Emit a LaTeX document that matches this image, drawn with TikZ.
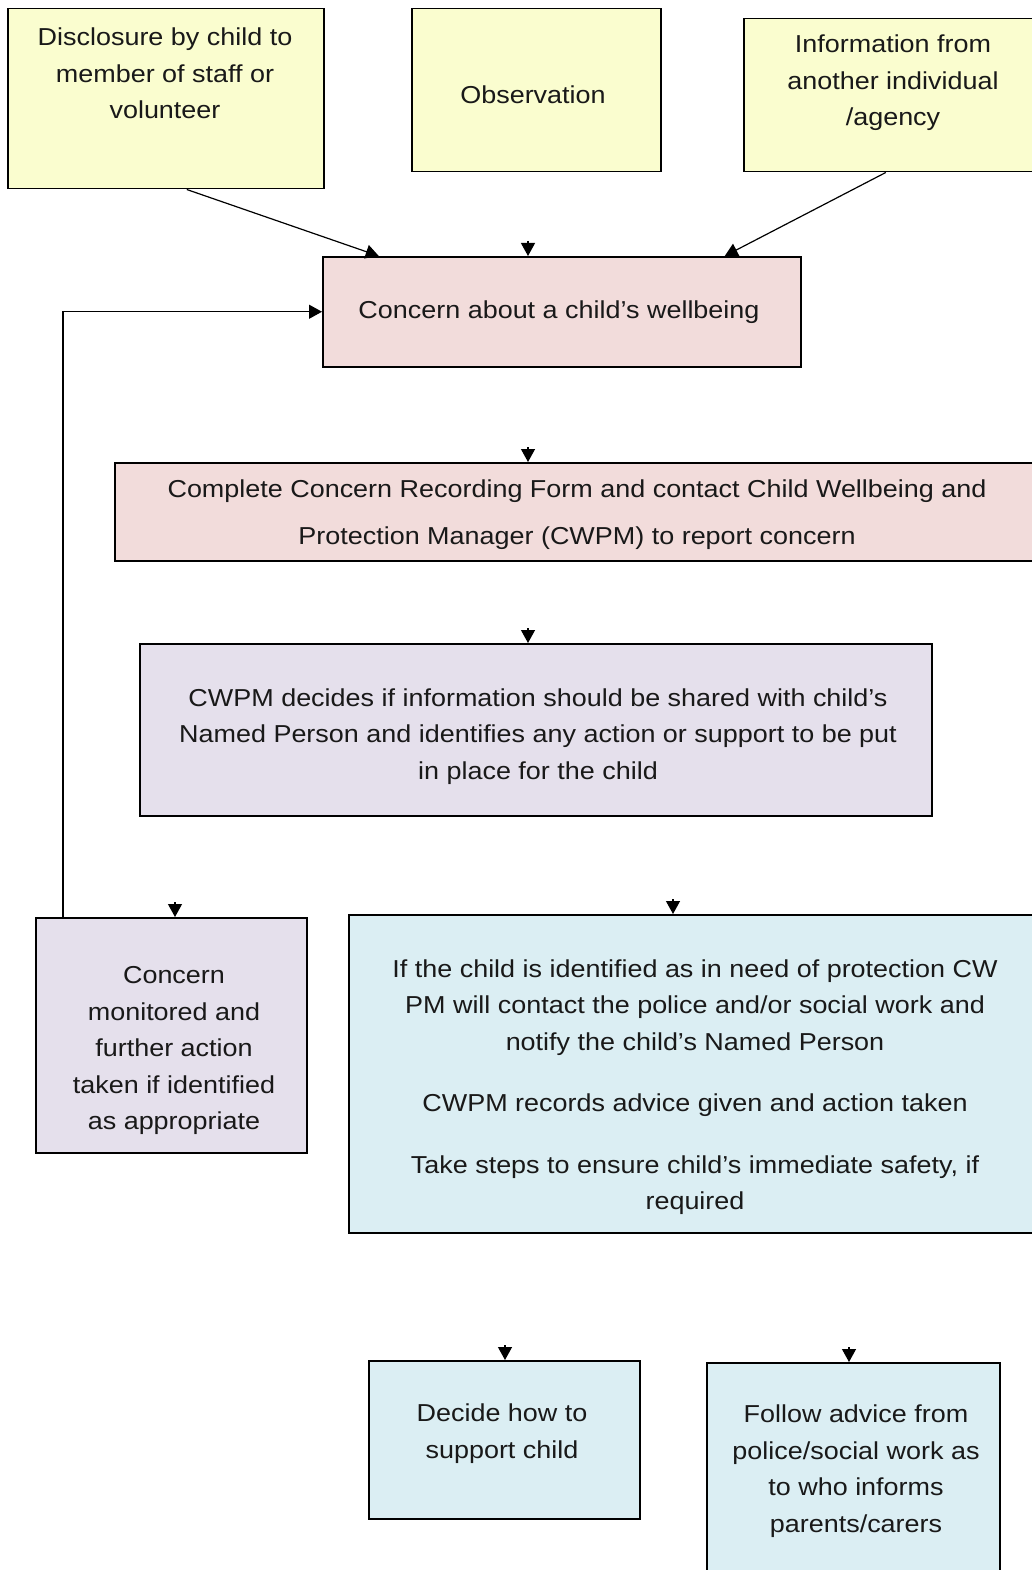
\documentclass[tikz,border=0pt]{standalone}
\usepackage{fontspec}
\setmainfont{Liberation Sans}[FakeStretch=1.1]
\usetikzlibrary{arrows.meta}
\definecolor{boxyellow}{HTML}{FAFDCF}
\definecolor{boxpink}{HTML}{F2DCDB}
\definecolor{boxlilac}{HTML}{E5E0EC}
\definecolor{boxblue}{HTML}{DBEEF3}
\tikzset{
  box/.style={draw, line width=1.5pt, rectangle, anchor=north west, inner sep=0pt},
  txt/.style={align=center, text=black!90, inner sep=0pt, yshift=-3.5pt,
    font=\fontsize{24.5}{36.5}\selectfont},
  tip/.style={line width=1.2pt, -{Triangle[width=14pt,length=13pt]}},
}
\begin{document}
\begin{tikzpicture}[x=1pt, y=-1pt]
    \useasboundingbox (0,0) rectangle (1032,1570);
    % sources
    \node (disc) [box, fill=boxyellow, minimum width=316pt, minimum height=180pt] at (7,8) {};
    \node (discT) [txt] at (165,70) {Disclosure by child to\\ member of staff or\\ volunteer};
    \node (obs) [box, fill=boxyellow, minimum width=249pt, minimum height=163pt] at (411,8) {};
    \node (obsT) [txt] at (533,91) {Observation};
    \node (info) [box, fill=boxyellow, minimum width=300pt, minimum height=153pt] at (743,18) {};
    \node (infoT) [txt] at (893,79.5) {Information from\\ another individual\\ /agency};
    % main line
    \node (concern) [box, fill=boxpink, minimum width=478pt, minimum height=110pt] at (322,256) {};
    \node (concernT) [txt] at (559,309) {Concern about a child’s wellbeing};
    \node (complete) [box, fill=boxpink, minimum width=930pt, minimum height=98pt] at (114,462) {};
    \node (completeT) [txt] at (577,511.5) {Complete Concern Recording Form and contact Child Wellbeing and\\[10.5pt] Protection Manager (CWPM) to report concern};
    \node (cwpm) [box, fill=boxlilac, minimum width=792pt, minimum height=172pt] at (139,643) {};
    \node (cwpmT) [txt] at (538,733) {CWPM decides if information should be shared with child’s\\ Named Person and identifies any action or support to be put\\ in place for the child};
    \node (monitor) [box, fill=boxlilac, minimum width=271pt, minimum height=235pt] at (35,917) {};
    \node (monitorT) [txt] at (174,1047) {Concern\\ monitored and\\ further action\\ taken if identified\\ as appropriate};
    \node (protect) [box, fill=boxblue, minimum width=695pt, minimum height=318pt] at (348,914) {};
    \node (protectT) [txt] at (695,1083.5) {If the child is identified as in need of protection CW\\ PM will contact the police and/or social work and\\ notify the child’s Named Person\\[25pt] CWPM records advice given and action taken\\[25pt] Take steps to ensure child’s immediate safety, if\\ required};
    \node (support) [box, fill=boxblue, minimum width=271pt, minimum height=158pt] at (368,1360) {};
    \node (supportT) [txt] at (502,1430) {Decide how to\\ support child};
    \node (advice) [box, fill=boxblue, minimum width=293pt, minimum height=220pt] at (706,1362) {};
    \node (adviceT) [txt] at (856,1467.5) {Follow advice from\\ police/social work as\\ to who informs\\ parents/carers};
    % connectors
    \draw [tip] ([xshift=21pt]disc.south) -- ([xshift=-183pt]concern.north);
    \draw [tip] ([xshift=-8pt]info.south) -- ([xshift=163pt]concern.north);
    \draw [tip] ([xshift=28pt]monitor.north west) |- (concern.west);
    % arrowheads only
    \coordinate (a1) at (528,241);
    \coordinate (a2) at (528,447);
    \coordinate (a3) at (528,628);
    \coordinate (a4) at (175,902);
    \coordinate (a5) at (673,899);
    \coordinate (a6) at (505,1345);
    \coordinate (a7) at (849,1347);
    \draw [tip] (a1) -- (a1 |- concern.north);
    \draw [tip] (a2) -- (a2 |- complete.north);
    \draw [tip] (a3) -- (a3 |- cwpm.north);
    \draw [tip] (a4) -- (a4 |- monitor.north);
    \draw [tip] (a5) -- (a5 |- protect.north);
    \draw [tip] (a6) -- (a6 |- support.north);
    \draw [tip] (a7) -- (a7 |- advice.north);
\end{tikzpicture}
\end{document}
